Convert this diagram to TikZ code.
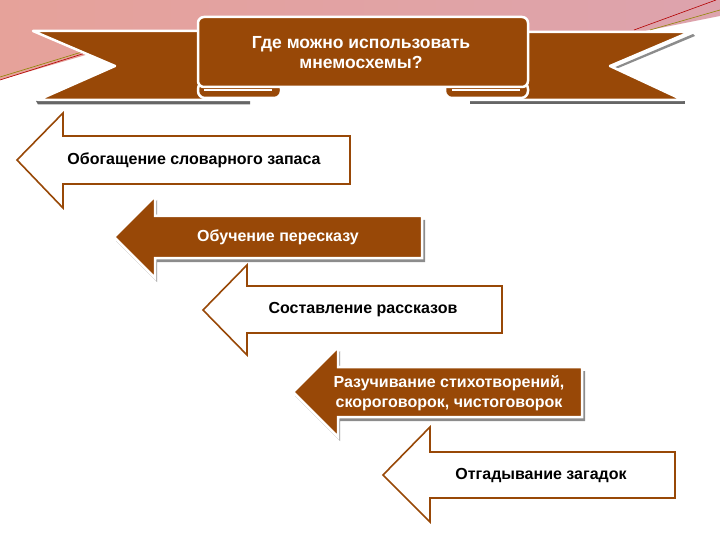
\documentclass[tikz,border=0pt]{standalone}
\usepackage{fontspec}
\setmainfont{Liberation Sans}
\definecolor{ribbon}{HTML}{984807}
\definecolor{peach}{HTML}{EFD6A3}
\definecolor{rosy}{HTML}{E6A29A}
\definecolor{mauve}{HTML}{DDA3AD}

\begin{document}
\begin{tikzpicture}[x=1pt,y=-1pt,
    whitearrow/.style={draw=ribbon,line width=1.6pt,fill=white,line join=miter},
    brownarrow/.style={draw=white,line width=2.5pt,fill=ribbon,line join=miter},
    arrowshadow/.style={fill=black,opacity=0.45},
    band/.style={draw=white,line width=2.5pt,fill=ribbon,line join=round},
    darktext/.style={font=\fontsize{16}{20}\selectfont\bfseries,text=black,align=center},
    lighttext/.style={font=\fontsize{16}{20}\selectfont\bfseries,text=white,align=center}]

\useasboundingbox (0,0) rectangle (720,540);

% coloured band behind the banner
\shade[left color=rosy,middle color=peach,right color=mauve]
  (0,0) -- (720,0) -- (720,16) -- (640,32) -- (120,45) -- (0,80) -- cycle;
\draw[red!70!black,line width=0.6pt] (0,80) -- (95,50);
\draw[olive,line width=0.6pt] (0,77) -- (95,48);
\draw[red!70!black,line width=0.6pt] (634,30) -- (716,0);
\draw[olive,line width=0.6pt] (650,30) -- (720,10);

% side parts of the ribbon
\fill[black,opacity=0.6] (36,101) -- (250,101) -- (250,104.5) -- (38,104.5) -- cycle;
\fill[black,opacity=0.6] (470,101) -- (685,101) -- (685,104.5) -- (470,104.5) -- cycle;
\fill[black,opacity=0.45] (693,34) -- (613,68) -- (616,69) -- (695,36) -- cycle;
\draw[band] (33,31) -- (250,31) -- (250,100) -- (38,100) -- (115,66) -- cycle;
\draw[band] (690,32) -- (610,66) -- (683,100) -- (470,100) -- (470,32) -- cycle;

% rolled ends under the middle part
\draw[band,rounded corners=7] (198,82) rectangle (281,98);
\draw[band,rounded corners=7] (445,82) rectangle (528,98);
\draw[white,line width=1.5pt] (204,90) -- (272,90);
\draw[white,line width=1.5pt] (452,90) -- (520,90);

% middle part of the banner
\draw[band,rounded corners=6] (198,17) rectangle (528,87);
\node[lighttext,font=\fontsize{17.5}{20}\selectfont\bfseries] (title) at (361,53)
  {Где можно использовать\\мнемосхемы?};

% arrows, top to bottom
\draw[whitearrow] (17,160) -- (63,113) -- (63,136) -- (350,136) -- (350,184)
  -- (63,184) -- (63,208) -- cycle;
\node[darktext] (t1) at (194,160) {Обогащение словарного запаса};

\fill[arrowshadow] (116,241) -- (157,200) -- (157,220) -- (425,220) -- (425,262)
  -- (157,262) -- (157,282) -- cycle;
\draw[brownarrow] (114,237) -- (155,196) -- (155,216) -- (422,216) -- (422,258)
  -- (155,258) -- (155,278) -- cycle;
\node[lighttext] (t2) at (278,237) {Обучение пересказу};

\draw[whitearrow] (203,310) -- (247,265) -- (247,286) -- (502,286) -- (502,333)
  -- (247,333) -- (247,355) -- cycle;
\node[darktext] (t3) at (363,310) {Составление рассказов};

\fill[arrowshadow] (295,396) -- (340,351) -- (340,371) -- (585,371) -- (585,421)
  -- (340,421) -- (340,441) -- cycle;
\draw[brownarrow] (293,392) -- (338,347) -- (338,367) -- (582,367) -- (582,417)
  -- (338,417) -- (338,437) -- cycle;
\node[lighttext] (t4) at (449,393) {Разучивание стихотворений,\\скороговорок, чистоговорок};

\draw[whitearrow] (383,475) -- (430,427) -- (430,452) -- (675,452) -- (675,498)
  -- (430,498) -- (430,522) -- cycle;
\node[darktext] (t5) at (541,476) {Отгадывание загадок};

\end{tikzpicture}
\end{document}
